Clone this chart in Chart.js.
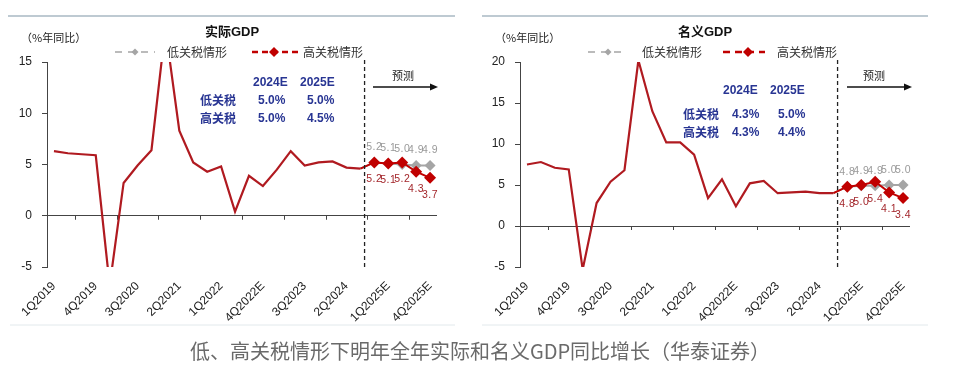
<!DOCTYPE html>
<html>
<head>
<meta charset="utf-8">
<script src="https://cdn.jsdelivr.net/npm/chart.js@4.4.1/dist/chart.umd.min.js"></script>
<style>
body { margin:0; width:960px; height:374px; background:#fff; position:relative; overflow:hidden; font-family:"Noto Sans CJK SC", sans-serif; }
canvas { position:absolute; top:0; }
.t { position:absolute; white-space:nowrap; line-height:1; }
.title { font-size:13px; font-weight:bold; color:#111; transform:translateX(-50%); }
.title b { font-family:"Liberation Sans", Arial, sans-serif; }
.unit { font-size:11px; color:#222; }
.leg { font-size:12px; color:#333; }
.ann { font-size:12px; font-weight:bold; color:#283593; }
.num { font-family:"Liberation Sans", Arial, sans-serif; }
.fc { font-size:11px; color:#222; }
.cap { font-size:20px; color:#6a6a6a; left:480px; top:341px; transform:translateX(-50%); }
svg { position:absolute; left:0; top:0; }
</style>
</head>
<body>
<canvas id="realChart" width="460" height="330" style="left:0px"></canvas>
<canvas id="nominalChart" width="460" height="330" style="left:480px"></canvas>

<svg width="960" height="374">
  <line x1="8" y1="16" x2="455" y2="16" stroke="#A9B9C3" stroke-width="1.5"/>
  <line x1="482" y1="16" x2="928" y2="16" stroke="#A9B9C3" stroke-width="1.5"/>
  <line x1="10" y1="325" x2="455" y2="325" stroke="#E2E9EC" stroke-width="1"/>
  <line x1="482" y1="325" x2="928" y2="325" stroke="#E2E9EC" stroke-width="1"/>
  <!-- legend symbols -->
  <line x1="115" y1="52" x2="155" y2="52" stroke="#A5A5A5" stroke-width="1.5" stroke-dasharray="7,6"/>
  <polygon points="135,48.5 138.5,52 135,55.5 131.5,52" fill="#A5A5A5"/>
  <line x1="252" y1="52" x2="300" y2="52" stroke="#C00000" stroke-width="2.5" stroke-dasharray="6,4"/>
  <polygon points="274,47 279,52 274,57 269,52" fill="#C00000"/>
  <line x1="588" y1="52" x2="627" y2="52" stroke="#A5A5A5" stroke-width="1.5" stroke-dasharray="7,6"/>
  <polygon points="608,48.5 611.5,52 608,55.5 604.5,52" fill="#A5A5A5"/>
  <line x1="723" y1="52" x2="765" y2="52" stroke="#C00000" stroke-width="2.5" stroke-dasharray="7,5"/>
  <polygon points="748,47 753,52 748,57 743,52" fill="#C00000"/>
  <!-- forecast arrows -->
  <line x1="373" y1="87" x2="432" y2="87" stroke="#111" stroke-width="1.5"/>
  <polygon points="438,87 430,83.5 430,90.5" fill="#111"/>
  <line x1="847" y1="87" x2="906" y2="87" stroke="#111" stroke-width="1.5"/>
  <polygon points="912,87 904,83.5 904,90.5" fill="#111"/>
</svg>

<div class="t title" style="left:232px;top:24px;">实际<b>GDP</b></div>
<div class="t unit" style="left:21px;top:32px;">（%年同比）</div>
<div class="t leg" style="left:167px;top:46px;">低关税情形</div>
<div class="t leg" style="left:303px;top:46px;">高关税情形</div>
<div class="t ann num" style="left:253px;top:76px;">2024E</div>
<div class="t ann num" style="left:300px;top:76px;">2025E</div>
<div class="t ann" style="left:200px;top:94px;">低关税</div>
<div class="t ann num" style="left:258px;top:94px;">5.0%</div>
<div class="t ann num" style="left:307px;top:94px;">5.0%</div>
<div class="t ann" style="left:200px;top:112px;">高关税</div>
<div class="t ann num" style="left:258px;top:112px;">5.0%</div>
<div class="t ann num" style="left:307px;top:112px;">4.5%</div>
<div class="t fc" style="left:392px;top:70px;">预测</div>

<div class="t title" style="left:705px;top:24px;">名义<b>GDP</b></div>
<div class="t unit" style="left:495px;top:32px;">（%年同比）</div>
<div class="t leg" style="left:642px;top:46px;">低关税情形</div>
<div class="t leg" style="left:777px;top:46px;">高关税情形</div>
<div class="t ann num" style="left:723px;top:84px;">2024E</div>
<div class="t ann num" style="left:770px;top:84px;">2025E</div>
<div class="t ann" style="left:683px;top:108px;">低关税</div>
<div class="t ann num" style="left:732px;top:108px;">4.3%</div>
<div class="t ann num" style="left:778px;top:108px;">5.0%</div>
<div class="t ann" style="left:683px;top:126px;">高关税</div>
<div class="t ann num" style="left:732px;top:126px;">4.3%</div>
<div class="t ann num" style="left:778px;top:126px;">4.4%</div>
<div class="t fc" style="left:863px;top:70px;">预测</div>

<div class="t cap">低、高关税情形下明年全年实际和名义GDP同比增长（华泰证券）</div>

<script>
// quarters shown on the x axis (labels drawn every 3rd)
var quarters = ['1Q2019','2Q2019','3Q2019','4Q2019','1Q2020','2Q2020','3Q2020','4Q2020',
    '1Q2021','2Q2021','3Q2021','4Q2021','1Q2022','2Q2022','3Q2022','4Q2022E',
    '1Q2023','2Q2023','3Q2023','4Q2023','1Q2024','2Q2024','3Q2024',
    '4Q2024E','1Q2025E','2Q2025E','3Q2025E','4Q2025E'];

// real GDP, % y/y
var realHistory = [6.3, 6.1, 6.0, 5.9, -6.8, 3.2, 4.9, 6.4, 18.3, 8.3, 5.2, 4.3,
    4.8, 0.4, 3.9, 2.9, 4.5, 6.3, 4.9, 5.2, 5.3, 4.7, 4.6];
var realLow = [5.2, 5.1, 5.0, 4.9, 4.9];   // 4Q2024E .. 4Q2025E
var realHigh = [5.2, 5.1, 5.2, 4.3, 3.7];

// nominal GDP, % y/y
var nominalHistory = [7.5, 7.8, 7.1, 6.9, -5.3, 2.8, 5.4, 6.8, 20.2, 14.0, 10.2, 10.2,
    8.7, 3.4, 5.7, 2.4, 5.2, 5.5, 4.0, 4.1, 4.2, 4.0, 4.0];
var nominalLow = [4.8, 4.9, 4.9, 5.0, 5.0];
var nominalHigh = [4.8, 5.0, 5.4, 4.1, 3.4];

var realTicks = [-5, 0, 5, 10, 15];
var nominalTicks = [-5, 0, 5, 10, 15, 20];

var RED = '#C00000', LINE_RED = '#B01A20', GRAY = '#A5A5A5';

Chart.defaults.font.family = '"Liberation Sans", Arial, sans-serif';
Chart.defaults.font.size = 12;
Chart.defaults.color = '#222';

// forecast series continue from the last actual value
function forecast(hist, vals) {
    var out = [];
    for (var i = 0; i < hist.length - 1; i++) out.push(null);
    out.push(hist[hist.length - 1]);
    return out.concat(vals);
}
function radii(hist, r) {
    return quarters.map(function (q, i) { return i < hist.length ? 0 : r; });
}

var extras = {
    id: 'extras',
    afterDatasetsDraw: function (chart) {
        var ctx = chart.ctx, xs = chart.scales.x, area = chart.chartArea;
        var first = chart.options.plugins.extras.firstForecast;
        ctx.save();
        // little ticks on the zero line
        var y0 = chart.scales.y.getPixelForValue(0);
        var step = xs.width / quarters.length;
        ctx.strokeStyle = '#444';
        ctx.lineWidth = 1;
        for (var k = 2; k <= quarters.length; k += 3) {
            var tx = Math.round(xs.left + k * step) + 0.5;
            ctx.beginPath(); ctx.moveTo(tx, y0); ctx.lineTo(tx, y0 + 4); ctx.stroke();
        }
        // forecast divider
        var a = xs.getPixelForValue(first - 1), b = xs.getPixelForValue(first);
        var dx = a + (b - a) * 0.3;
        ctx.strokeStyle = '#222';
        ctx.lineWidth = 1.3;
        ctx.setLineDash([4, 3]);
        ctx.beginPath(); ctx.moveTo(dx, area.top - 2); ctx.lineTo(dx, area.bottom + 2); ctx.stroke();
        ctx.setLineDash([]);
        // value labels
        ctx.font = '10.5px "Liberation Sans", Arial, sans-serif';
        ctx.letterSpacing = '0.5px';
        ctx.textAlign = 'center';
        ctx.textBaseline = 'middle';
        chart.data.datasets.forEach(function (ds, di) {
            if (!ds.valueLabel) return;
            var meta = chart.getDatasetMeta(di);
            for (var i = first; i < ds.data.length; i++) {
                var p = meta.data[i];
                ctx.fillStyle = ds.valueLabel.color;
                ctx.fillText(ds.data[i].toFixed(1), p.x, p.y + ds.valueLabel.dy);
            }
        });
        ctx.restore();
    }
};

function makeChart(id, hist, low, high, ticks, axisLeft, axisRight) {
    return new Chart(document.getElementById(id), {
        type: 'line',
        data: {
            labels: quarters,
            datasets: [{
                label: '高关税情形',
                data: forecast(hist, high),
                borderColor: RED, backgroundColor: RED, borderWidth: 2,
                pointStyle: 'rectRot', pointRadius: radii(hist, 6), pointBorderWidth: 0,
                valueLabel: { color: '#A3262B', dy: 17 }
            }, {
                label: '低关税情形',
                data: forecast(hist, low),
                borderColor: GRAY, backgroundColor: GRAY, borderWidth: 2,
                pointStyle: 'rectRot', pointRadius: radii(hist, 5.5), pointBorderWidth: 0,
                valueLabel: { color: '#9A9A9A', dy: -15 }
            }, {
                label: 'history',
                data: hist,
                borderColor: LINE_RED, borderWidth: 2.2, pointRadius: 0, tension: 0
            }]
        },
        options: {
            responsive: false,
            animation: false,
            devicePixelRatio: 1,
            layout: { padding: { top: 62, left: 0, right: 460 - axisRight, bottom: 0 } },
            plugins: {
                legend: { display: false },
                tooltip: { enabled: false },
                extras: { firstForecast: hist.length }
            },
            scales: {
                x: {
                    offset: true,
                    grid: { display: false },
                    border: { display: false },
                    afterFit: function (s) { s.height = 63; },
                    ticks: {
                        autoSkip: false, minRotation: 45, maxRotation: 45, padding: 4,
                        font: { size: 12 }, color: '#222',
                        callback: function (v, i) { return i % 3 === 0 ? quarters[i] : ''; }
                    }
                },
                y: {
                    min: ticks[0], max: ticks[ticks.length - 1],
                    afterFit: function (s) { s.width = axisLeft; },
                    afterBuildTicks: function (s) { s.ticks = ticks.map(function (v) { return { value: v }; }); },
                    border: { display: true, color: '#444', width: 1 },
                    grid: {
                        color: function (c) { return c.tick && c.tick.value === 0 ? '#444' : 'rgba(0,0,0,0)'; },
                        tickColor: '#444', tickLength: 5, drawTicks: true
                    },
                    ticks: { padding: 10, font: { size: 12 }, color: '#222' }
                }
            }
        },
        plugins: [extras]
    });
}

makeChart('realChart', realHistory, realLow, realHigh, realTicks, 47, 437);
makeChart('nominalChart', nominalHistory, nominalLow, nominalHigh, nominalTicks, 40, 430);
</script>
</body>
</html>
